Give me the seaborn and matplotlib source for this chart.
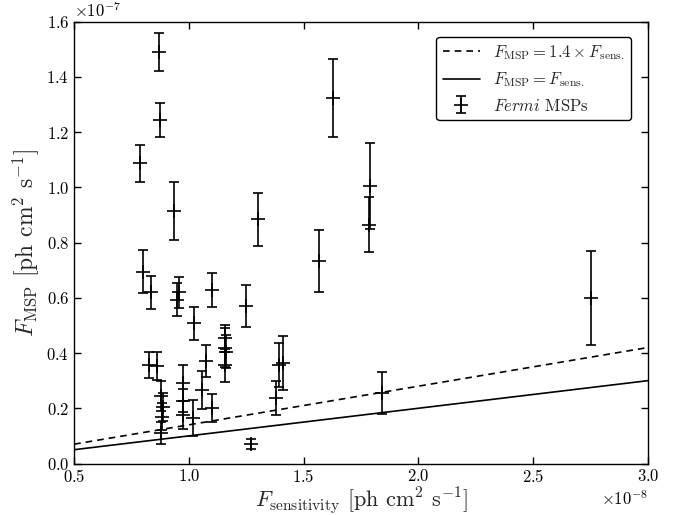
import numpy as np
import matplotlib
matplotlib.use("Agg")
import matplotlib.pyplot as plt
import seaborn as sns

# Fermi MSPs: sensitivity flux (x 1e-8) and measured flux (x 1e-7) with errors
f_sens = [0.868, 0.872, 0.789, 0.936, 1.303, 1.626, 1.566,
          0.800, 0.836, 0.946, 0.958, 1.024, 1.099, 1.249,
          0.827, 0.861, 0.880, 0.885, 0.882, 0.877,
          0.976, 0.974, 0.976, 1.018, 1.055, 1.073, 1.102,
          1.156, 1.158, 1.160, 1.157, 1.272,
          1.380, 1.394, 1.409, 1.790, 1.785, 1.840, 2.750]
f_msp = [1.490, 1.244, 1.087, 0.914, 0.884, 1.324, 0.733,
         0.695, 0.620, 0.593, 0.620, 0.507, 0.628, 0.571,
         0.357, 0.353, 0.245, 0.205, 0.170, 0.112,
         0.293, 0.228, 0.175, 0.165, 0.266, 0.371, 0.201,
         0.453, 0.420, 0.405, 0.355, 0.071,
         0.237, 0.357, 0.363, 1.005, 0.865, 0.255, 0.600]
f_msp_err = [0.070, 0.060, 0.066, 0.105, 0.095, 0.140, 0.113,
             0.077, 0.060, 0.060, 0.057, 0.058, 0.061, 0.076,
             0.047, 0.050, 0.055, 0.050, 0.050, 0.040,
             0.065, 0.040, 0.050, 0.065, 0.068, 0.057, 0.050,
             0.050, 0.070, 0.060, 0.060, 0.018,
             0.063, 0.080, 0.098, 0.155, 0.100, 0.075, 0.170]

x_range = [0.5, 3.0]
ratio = 1.4

sns.set_style("ticks")
plt.rcParams.update({
    "font.family": "serif",
    "font.serif": ["cmr10", "DejaVu Serif"],
    "mathtext.fontset": "cm",
    "axes.formatter.use_mathtext": True,
    "axes.unicode_minus": False,
    "xtick.direction": "in",
    "ytick.direction": "in",
    "xtick.top": True,
    "ytick.right": True,
    "axes.edgecolor": "black",
    "axes.linewidth": 1.0,
})

fig = plt.figure(figsize=(6.8, 5.15), dpi=100)
ax = fig.add_axes([0.109, 0.100, 0.844, 0.858])

xs = np.array(x_range) * 1e-8
sns.lineplot(x=xs, y=ratio * xs, ax=ax, color="black", lw=1.2,
             linestyle=(0, (4, 3)),
             label=r"$F_{\rm MSP} = 1.4 \times F_{\rm sens.}$")
sns.lineplot(x=xs, y=xs, ax=ax, color="black", lw=1.2,
             label=r"$F_{\rm MSP} = F_{\rm sens.}$")

ax.errorbar(np.array(f_sens) * 1e-8, np.array(f_msp) * 1e-7,
            yerr=np.array(f_msp_err) * 1e-7,
            fmt="+", color="black", ms=10, mew=1.2,
            ecolor="black", elinewidth=1.2, capsize=3.5,
            capthick=1.2, label=r"$Fermi$ MSPs")

ax.set_xlim(0.5e-8, 3.0e-8)
ax.set_ylim(0.0, 1.6e-7)
ax.set_xticks(np.arange(0.5, 3.01, 0.5) * 1e-8)
ax.set_yticks(np.arange(0.0, 1.61, 0.2) * 1e-7)
ax.tick_params(labelsize=12, length=5, width=1, colors="black")
ax.xaxis.get_offset_text().set_fontsize(12)
ax.yaxis.get_offset_text().set_fontsize(12)

ax.set_xlabel(r"$F_{\rm sensitivity}$ [ph cm$^2$ s$^{-1}$]", fontsize=16, labelpad=0)
ax.set_ylabel(r"$F_{\rm MSP}$ [ph cm$^2$ s$^{-1}$]", fontsize=17, labelpad=4)

leg = ax.legend(loc="upper right", fontsize=12, frameon=True, fancybox=True,
                edgecolor="black", framealpha=1, borderpad=0.4,
                handlelength=2.2, bbox_to_anchor=(0.985, 0.985))
leg.get_frame().set_linewidth(1.0)

fig.savefig("out.png", dpi=100)
